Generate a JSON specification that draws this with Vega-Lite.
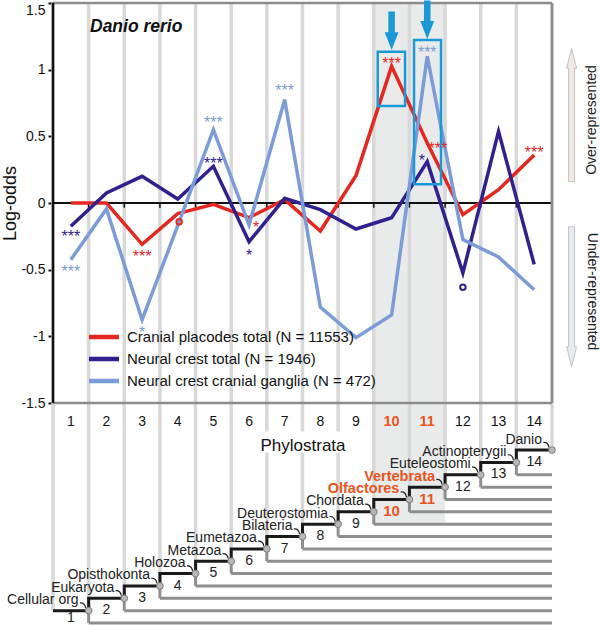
{
  "$schema": "https://vega.github.io/schema/vega-lite/v6.json",
  "width": 499,
  "height": 620,
  "autosize": {"type": "none"},
  "padding": {"left": 53, "top": 3, "right": 48, "bottom": 2},
  "background": "white",
  "config": {"font": "Liberation Sans", "view": {"stroke": null}},
  "datasets": {
    "series": [
      {"stratum": 1, "series": "Cranial placodes total (N = 11553)", "value": 0.0},
      {"stratum": 2, "series": "Cranial placodes total (N = 11553)", "value": 0.0},
      {"stratum": 3, "series": "Cranial placodes total (N = 11553)", "value": -0.31},
      {"stratum": 4, "series": "Cranial placodes total (N = 11553)", "value": -0.08},
      {"stratum": 5, "series": "Cranial placodes total (N = 11553)", "value": -0.01},
      {"stratum": 6, "series": "Cranial placodes total (N = 11553)", "value": -0.11},
      {"stratum": 7, "series": "Cranial placodes total (N = 11553)", "value": 0.025},
      {"stratum": 8, "series": "Cranial placodes total (N = 11553)", "value": -0.21},
      {"stratum": 9, "series": "Cranial placodes total (N = 11553)", "value": 0.205},
      {"stratum": 10, "series": "Cranial placodes total (N = 11553)", "value": 1.025},
      {"stratum": 11, "series": "Cranial placodes total (N = 11553)", "value": 0.45},
      {"stratum": 12, "series": "Cranial placodes total (N = 11553)", "value": -0.088},
      {"stratum": 13, "series": "Cranial placodes total (N = 11553)", "value": 0.1},
      {"stratum": 14, "series": "Cranial placodes total (N = 11553)", "value": 0.36},
      {"stratum": 1, "series": "Neural crest total (N = 1946)", "value": -0.175},
      {"stratum": 2, "series": "Neural crest total (N = 1946)", "value": 0.075},
      {"stratum": 3, "series": "Neural crest total (N = 1946)", "value": 0.2},
      {"stratum": 4, "series": "Neural crest total (N = 1946)", "value": 0.03},
      {"stratum": 5, "series": "Neural crest total (N = 1946)", "value": 0.275},
      {"stratum": 6, "series": "Neural crest total (N = 1946)", "value": -0.29},
      {"stratum": 7, "series": "Neural crest total (N = 1946)", "value": 0.035},
      {"stratum": 8, "series": "Neural crest total (N = 1946)", "value": -0.05},
      {"stratum": 9, "series": "Neural crest total (N = 1946)", "value": -0.195},
      {"stratum": 10, "series": "Neural crest total (N = 1946)", "value": -0.11},
      {"stratum": 11, "series": "Neural crest total (N = 1946)", "value": 0.31},
      {"stratum": 12, "series": "Neural crest total (N = 1946)", "value": -0.525},
      {"stratum": 13, "series": "Neural crest total (N = 1946)", "value": 0.537},
      {"stratum": 14, "series": "Neural crest total (N = 1946)", "value": -0.46},
      {"stratum": 1, "series": "Neural crest cranial ganglia (N = 472)", "value": -0.425},
      {"stratum": 2, "series": "Neural crest cranial ganglia (N = 472)", "value": -0.045},
      {"stratum": 3, "series": "Neural crest cranial ganglia (N = 472)", "value": -0.875},
      {"stratum": 4, "series": "Neural crest cranial ganglia (N = 472)", "value": -0.17},
      {"stratum": 5, "series": "Neural crest cranial ganglia (N = 472)", "value": 0.55},
      {"stratum": 6, "series": "Neural crest cranial ganglia (N = 472)", "value": -0.165},
      {"stratum": 7, "series": "Neural crest cranial ganglia (N = 472)", "value": 0.775},
      {"stratum": 8, "series": "Neural crest cranial ganglia (N = 472)", "value": -0.78},
      {"stratum": 9, "series": "Neural crest cranial ganglia (N = 472)", "value": -1.01},
      {"stratum": 10, "series": "Neural crest cranial ganglia (N = 472)", "value": -0.84},
      {"stratum": 11, "series": "Neural crest cranial ganglia (N = 472)", "value": 1.1},
      {"stratum": 12, "series": "Neural crest cranial ganglia (N = 472)", "value": -0.275},
      {"stratum": 13, "series": "Neural crest cranial ganglia (N = 472)", "value": -0.405},
      {"stratum": 14, "series": "Neural crest cranial ganglia (N = 472)", "value": -0.65}
    ],
    "sig": [
      {"x": 3, "y": -0.365, "t": "***", "series": "Cranial placodes total (N = 11553)"},
      {"x": 6.2, "y": -0.15, "t": "*", "series": "Cranial placodes total (N = 11553)"},
      {"x": 10, "y": 1.08, "t": "***", "series": "Cranial placodes total (N = 11553)"},
      {"x": 11.3, "y": 0.44, "t": "***", "series": "Cranial placodes total (N = 11553)"},
      {"x": 14, "y": 0.41, "t": "***", "series": "Cranial placodes total (N = 11553)"},
      {"x": 1, "y": -0.215, "t": "***", "series": "Neural crest total (N = 1946)"},
      {"x": 5, "y": 0.33, "t": "***", "series": "Neural crest total (N = 1946)"},
      {"x": 6, "y": -0.36, "t": "*", "series": "Neural crest total (N = 1946)"},
      {"x": 10.85, "y": 0.35, "t": "*", "series": "Neural crest total (N = 1946)"},
      {"x": 1, "y": -0.48, "t": "***", "series": "Neural crest cranial ganglia (N = 472)"},
      {"x": 3, "y": -0.94, "t": "*", "series": "Neural crest cranial ganglia (N = 472)"},
      {"x": 5, "y": 0.64, "t": "***", "series": "Neural crest cranial ganglia (N = 472)"},
      {"x": 7, "y": 0.875, "t": "***", "series": "Neural crest cranial ganglia (N = 472)"},
      {"x": 11, "y": 1.16, "t": "***", "series": "Neural crest cranial ganglia (N = 472)"}
    ],
    "circ": [
      {"x": 4.04, "y": -0.14, "series": "Cranial placodes total (N = 11553)"},
      {"x": 12, "y": -0.632, "series": "Neural crest total (N = 1946)"}
    ],
    "grid": [
      {"b": 0.5, "bot": 1}, {"b": 1.5, "bot": 1}, {"b": 2.5, "bot": 2}, {"b": 3.5, "bot": 3},
      {"b": 4.5, "bot": 4}, {"b": 5.5, "bot": 5}, {"b": 6.5, "bot": 6}, {"b": 7.5, "bot": 7},
      {"b": 8.5, "bot": 8}, {"b": 9.5, "bot": 9}, {"b": 10.5, "bot": 10}, {"b": 11.5, "bot": 11},
      {"b": 12.5, "bot": 12}, {"b": 13.5, "bot": 13}, {"b": 14.5, "bot": 14}
    ],
    "nodes": [
      {"k": 0, "x": 0.5, "lvl": 1, "below": 1, "name": ""},
      {"k": 1, "x": 1.5, "lvl": 1, "below": 0, "name": "Cellular org"},
      {"k": 2, "x": 2.5, "lvl": 2, "below": 1, "name": "Eukaryota"},
      {"k": 3, "x": 3.5, "lvl": 3, "below": 2, "name": "Opisthokonta"},
      {"k": 4, "x": 4.5, "lvl": 4, "below": 3, "name": "Holozoa"},
      {"k": 5, "x": 5.5, "lvl": 5, "below": 4, "name": "Metazoa"},
      {"k": 6, "x": 6.5, "lvl": 6, "below": 5, "name": "Eumetazoa"},
      {"k": 7, "x": 7.5, "lvl": 7, "below": 6, "name": "Bilateria"},
      {"k": 8, "x": 8.5, "lvl": 8, "below": 7, "name": "Deuterostomia"},
      {"k": 9, "x": 9.5, "lvl": 9, "below": 8, "name": "Chordata"},
      {"k": 10, "x": 10.5, "lvl": 10, "below": 9, "name": "Olfactores"},
      {"k": 11, "x": 11.5, "lvl": 11, "below": 10, "name": "Vertebrata"},
      {"k": 12, "x": 12.5, "lvl": 12, "below": 11, "name": "Euteleostomi"},
      {"k": 13, "x": 13.5, "lvl": 13, "below": 12, "name": "Actinopterygii"},
      {"k": 14, "x": 14.5, "lvl": 14, "below": 13, "name": "Danio"}
    ]
  },
  "resolve": {"scale": {"y": "independent"}},
  "layer": [
    {
      "data": {"values": [{"f": 9.5, "t": 11.5}]},
      "mark": {"type": "rect", "color": "#e9ebea"},
      "encoding": {
        "x": {"field": "f", "type": "quantitative", "scale": {"domain": [0.5, 14.5], "nice": false, "zero": false}},
        "x2": {"field": "t"},
        "y": {"datum": 8, "type": "quantitative", "scale": {"domain": [0, 50.2], "nice": false, "zero": false}, "axis": null},
        "y2": {"datum": 50.2}
      }
    },
    {
      "data": {"name": "grid"},
      "mark": {"type": "rule", "color": "#d8d8d8", "strokeWidth": 3.5},
      "encoding": {
        "x": {"field": "b", "type": "quantitative", "scale": {"domain": [0.5, 14.5], "nice": false, "zero": false},
          "axis": {"title": "Phylostrata", "offset": -220, "domain": false, "ticks": false, "labels": false, "grid": false, "zindex": 1,
            "titleFontSize": 17, "titleFontWeight": "normal", "titleColor": "#111111", "titlePadding": 34.5}},
        "y": {"field": "bot", "type": "quantitative", "scale": {"domain": [0, 50.2], "nice": false, "zero": false}, "axis": null},
        "y2": {"datum": 50.2}
      }
    },
    {
      "data": {"values": [{"f": 6.2, "t": 8.65}]},
      "mark": {"type": "rect", "color": "white"},
      "encoding": {
        "x": {"field": "f", "type": "quantitative", "scale": {"domain": [0.5, 14.5], "nice": false, "zero": false}},
        "x2": {"field": "t"},
        "y": {"datum": 13.8, "type": "quantitative", "scale": {"domain": [0, 50.2], "nice": false, "zero": false}, "axis": null},
        "y2": {"datum": 15.5}
      }
    },
    {
      "data": {"name": "nodes"},
      "transform": [{"filter": "datum.k > 0 && datum.k != 10 && datum.k != 11"}],
      "mark": {"type": "text", "fontSize": 14, "color": "#111111", "align": "center", "baseline": "middle"},
      "encoding": {
        "x": {"field": "k", "type": "quantitative", "scale": {"domain": [0.5, 14.5], "nice": false, "zero": false}},
        "y": {"datum": 16.28, "type": "quantitative", "scale": {"domain": [0, 50.2], "nice": false, "zero": false}, "axis": null},
        "text": {"field": "k", "type": "nominal"}
      }
    },
    {
      "data": {"name": "nodes"},
      "transform": [{"filter": "datum.k == 10 || datum.k == 11"}],
      "mark": {"type": "text", "fontSize": 14.5, "fontWeight": "bold", "color": "#e8541e", "align": "center", "baseline": "middle"},
      "encoding": {
        "x": {"field": "k", "type": "quantitative", "scale": {"domain": [0.5, 14.5], "nice": false, "zero": false}},
        "y": {"datum": 16.28, "type": "quantitative", "scale": {"domain": [0, 50.2], "nice": false, "zero": false}, "axis": null},
        "text": {"field": "k", "type": "nominal"}
      }
    },
    {
      "data": {"name": "grid"},
      "transform": [{"filter": "datum.b > 0.6 && datum.b < 14.4"}],
      "mark": {"type": "rule", "color": "#111111", "strokeWidth": 1.5},
      "encoding": {
        "x": {"field": "b", "type": "quantitative", "scale": {"domain": [0.5, 14.5], "nice": false, "zero": false}},
        "y": {"datum": 0, "type": "quantitative", "scale": {"domain": [-3.15, 1.5], "nice": false, "zero": false}, "axis": null},
        "y2": {"datum": -0.035}
      }
    },
    {
      "data": {"values": [{"v": 0, "c": "zero"}]},
      "mark": {"type": "rule", "color": "#111111", "strokeWidth": 2},
      "encoding": {"y": {"field": "v", "type": "quantitative", "scale": {"domain": [-3.15, 1.5], "nice": false, "zero": false}, "axis": null}}
    },
    {
      "data": {"values": [{"v": 1.5}, {"v": -1.5}]},
      "mark": {"type": "rule", "color": "#8c8c8c", "strokeWidth": 2.5},
      "encoding": {"y": {"field": "v", "type": "quantitative", "scale": {"domain": [-3.15, 1.5], "nice": false, "zero": false}, "axis": null}}
    },
    {
      "data": {"values": [{"x": 14.5, "a": -1.5, "b": 1.5}]},
      "mark": {"type": "rule", "color": "#8c8c8c", "strokeWidth": 2.5},
      "encoding": {
        "x": {"field": "x", "type": "quantitative", "scale": {"domain": [0.5, 14.5], "nice": false, "zero": false}},
        "y": {"field": "a", "type": "quantitative", "scale": {"domain": [-3.15, 1.5], "nice": false, "zero": false}, "axis": null},
        "y2": {"field": "b"}
      }
    },
    {
      "data": {"values": [{"x": 0.5, "a": -1.5, "b": 1.5}]},
      "mark": {"type": "rule", "color": "#111111", "strokeWidth": 2.5},
      "encoding": {
        "x": {"field": "x", "type": "quantitative", "scale": {"domain": [0.5, 14.5], "nice": false, "zero": false}},
        "y": {"field": "a", "type": "quantitative", "scale": {"domain": [-3.15, 1.5], "nice": false, "zero": false}, "axis": null},
        "y2": {"field": "b"}
      }
    },
    {
      "data": {"name": "series"},
      "mark": {"type": "line", "strokeWidth": 3.5},
      "encoding": {
        "x": {"field": "stratum", "type": "quantitative", "scale": {"domain": [0.5, 14.5], "nice": false, "zero": false}},
        "y": {"field": "value", "type": "quantitative", "scale": {"domain": [-3.15, 1.5], "nice": false, "zero": false},
          "axis": {"values": [-1.5, -1, -0.5, 0, 0.5, 1, 1.5], "title": "Log-odds", "domain": false, "grid": false,
            "labelExpr": "datum.value == 0 ? '0' : (datum.value < 0 ? '-' : '') + format(abs(datum.value), '~g')",
            "labelFlush": true, "labelFlushOffset": 0,
            "labelFontSize": 14, "labelColor": "#111111", "labelPadding": 3, "tickColor": "#111111", "tickWidth": 2, "tickSize": 5,
            "titleFontSize": 18, "titleFontWeight": "normal", "titleColor": "#111111", "titleX": -43, "titleY": 200, "titleAngle": 270, "titleAlign": "center", "titleBaseline": "middle"}},
        "color": {"field": "series", "type": "nominal",
          "scale": {"domain": ["Cranial placodes total (N = 11553)", "Neural crest total (N = 1946)", "Neural crest cranial ganglia (N = 472)"], "range": ["#e5281f", "#30218f", "#7b9cd9"]},
          "legend": {"orient": "none", "legendX": 38, "legendY": 321, "title": null, "symbolType": "M -1.4 0 L 1.4 0", "symbolSize": 460, "symbolStrokeWidth": 4.5,
            "labelFontSize": 15, "labelLimit": 400, "labelColor": "#111111", "rowPadding": 0, "labelOffset": 10, "padding": 0}}
      }
    },
    {
      "data": {"name": "sig"},
      "mark": {"type": "text", "fontSize": 16, "baseline": "middle", "align": "center", "dy": 5},
      "encoding": {
        "x": {"field": "x", "type": "quantitative", "scale": {"domain": [0.5, 14.5], "nice": false, "zero": false}},
        "y": {"field": "y", "type": "quantitative", "scale": {"domain": [-3.15, 1.5], "nice": false, "zero": false}, "axis": null},
        "text": {"field": "t", "type": "nominal"},
        "color": {"field": "series", "type": "nominal"}
      }
    },
    {
      "data": {"name": "circ"},
      "mark": {"type": "point", "filled": false, "strokeWidth": 2, "size": 30, "opacity": 1},
      "encoding": {
        "x": {"field": "x", "type": "quantitative", "scale": {"domain": [0.5, 14.5], "nice": false, "zero": false}},
        "y": {"field": "y", "type": "quantitative", "scale": {"domain": [-3.15, 1.5], "nice": false, "zero": false}, "axis": null},
        "color": {"field": "series", "type": "nominal"}
      }
    },
    {
      "data": {"values": [
        {"x1": 9.611, "x2": 10.377, "y1": 0.7275, "y2": 1.135},
        {"x1": 10.629, "x2": 11.386, "y1": 0.14, "y2": 1.2225}
      ]},
      "mark": {"type": "rect", "filled": false, "stroke": "#1b99d6", "strokeWidth": 2.5},
      "encoding": {
        "x": {"field": "x1", "type": "quantitative", "scale": {"domain": [0.5, 14.5], "nice": false, "zero": false}},
        "x2": {"field": "x2"},
        "y": {"field": "y1", "type": "quantitative", "scale": {"domain": [-3.15, 1.5], "nice": false, "zero": false}, "axis": null},
        "y2": {"field": "y2"}
      }
    },
    {
      "data": {"values": [{"x": 10, "y": 1.291}, {"x": 11, "y": 1.375}]},
      "mark": {"type": "point", "filled": true, "color": "#1b99d6", "opacity": 1, "size": 1482,
        "shape": "M -0.17 -1 L 0.17 -1 L 0.17 0.07 L 0.36 0.07 L 0 1 L -0.36 0.07 L -0.17 0.07 Z"},
      "encoding": {
        "x": {"field": "x", "type": "quantitative", "scale": {"domain": [0.5, 14.5], "nice": false, "zero": false}},
        "y": {"field": "y", "type": "quantitative", "scale": {"domain": [-3.15, 1.5], "nice": false, "zero": false}, "axis": null}
      }
    },
    {
      "data": {"values": [{"x": 15.05, "y": 0.66}]},
      "mark": {"type": "point", "filled": true, "fill": "#f3e7e3", "stroke": "#b5b5b5", "strokeWidth": 0.8, "opacity": 1, "size": 17796,
        "shape": "M 0 -1 L 0.075 -0.7 L 0.045 -0.7 L 0.045 1 L -0.045 1 L -0.045 -0.7 L -0.075 -0.7 Z"},
      "encoding": {
        "x": {"field": "x", "type": "quantitative", "scale": {"domain": [0.5, 14.5], "nice": false, "zero": false}},
        "y": {"field": "y", "type": "quantitative", "scale": {"domain": [-3.15, 1.5], "nice": false, "zero": false}, "axis": null}
      }
    },
    {
      "data": {"values": [{"x": 15.05, "y": -0.703}]},
      "mark": {"type": "point", "filled": true, "fill": "#e6ebf2", "stroke": "#b5b5b5", "strokeWidth": 0.8, "opacity": 1, "size": 19600,
        "shape": "M 0 1 L 0.071 0.714 L 0.043 0.714 L 0.043 -1 L -0.043 -1 L -0.043 0.714 L -0.071 0.714 Z"},
      "encoding": {
        "x": {"field": "x", "type": "quantitative", "scale": {"domain": [0.5, 14.5], "nice": false, "zero": false}},
        "y": {"field": "y", "type": "quantitative", "scale": {"domain": [-3.15, 1.5], "nice": false, "zero": false}, "axis": null}
      }
    },
    {
      "data": {"values": [{"x": 15.615, "y": 0.6225, "t": "Over-represented"}]},
      "mark": {"type": "text", "angle": 270, "fontSize": 14, "color": "#222222", "align": "center", "baseline": "middle"},
      "encoding": {
        "x": {"field": "x", "type": "quantitative", "scale": {"domain": [0.5, 14.5], "nice": false, "zero": false}},
        "y": {"field": "y", "type": "quantitative", "scale": {"domain": [-3.15, 1.5], "nice": false, "zero": false}, "axis": null},
        "text": {"field": "t", "type": "nominal"}
      }
    },
    {
      "data": {"values": [{"x": 15.615, "y": -0.664, "t": "Under-represented"}]},
      "mark": {"type": "text", "angle": 90, "fontSize": 14, "color": "#222222", "align": "center", "baseline": "middle"},
      "encoding": {
        "x": {"field": "x", "type": "quantitative", "scale": {"domain": [0.5, 14.5], "nice": false, "zero": false}},
        "y": {"field": "y", "type": "quantitative", "scale": {"domain": [-3.15, 1.5], "nice": false, "zero": false}, "axis": null},
        "text": {"field": "t", "type": "nominal"}
      }
    },
    {
      "data": {"values": [{"x": 1.538, "y": 1.322, "t": "Danio rerio"}]},
      "mark": {"type": "text", "fontSize": 17.5, "fontWeight": "bold", "fontStyle": "italic", "color": "#111111", "align": "left", "baseline": "middle"},
      "encoding": {
        "x": {"field": "x", "type": "quantitative", "scale": {"domain": [0.5, 14.5], "nice": false, "zero": false}},
        "y": {"field": "y", "type": "quantitative", "scale": {"domain": [-3.15, 1.5], "nice": false, "zero": false}, "axis": null},
        "text": {"field": "t", "type": "nominal"}
      }
    },
    {
      "data": {"name": "nodes"},
      "transform": [{"filter": "datum.k > 0 && datum.k < 14"}],
      "mark": {"type": "rule", "color": "#8e8e8e", "strokeWidth": 3},
      "encoding": {
        "x": {"field": "x", "type": "quantitative", "scale": {"domain": [0.5, 14.5], "nice": false, "zero": false}},
        "y": {"field": "lvl", "type": "quantitative", "scale": {"domain": [0, 50.2], "nice": false, "zero": false}, "axis": null},
        "y2": {"field": "below"}
      }
    },
    {
      "data": {"name": "nodes"},
      "transform": [{"filter": "datum.k > 0 && datum.k < 14"}],
      "mark": {"type": "rule", "color": "#8e8e8e", "strokeWidth": 3},
      "encoding": {
        "x": {"field": "x", "type": "quantitative", "scale": {"domain": [0.5, 14.5], "nice": false, "zero": false}},
        "x2": {"datum": 14.5},
        "y": {"field": "below", "type": "quantitative", "scale": {"domain": [0, 50.2], "nice": false, "zero": false}, "axis": null}
      }
    },
    {
      "data": {"name": "nodes"},
      "mark": {"type": "line", "color": "#1a1a1a", "strokeWidth": 3, "interpolate": "step-before"},
      "encoding": {
        "x": {"field": "x", "type": "quantitative", "scale": {"domain": [0.5, 14.5], "nice": false, "zero": false}},
        "y": {"field": "lvl", "type": "quantitative", "scale": {"domain": [0, 50.2], "nice": false, "zero": false}, "axis": null}
      }
    },
    {
      "data": {"name": "nodes"},
      "transform": [{"filter": "datum.k > 0"}],
      "mark": {"type": "point", "filled": false, "stroke": "#222222", "strokeWidth": 1.2, "opacity": 1, "size": 400,
        "shape": "M -0.87 -0.77 Q -0.35 -0.8 -0.3 -0.25"},
      "encoding": {
        "x": {"field": "x", "type": "quantitative", "scale": {"domain": [0.5, 14.5], "nice": false, "zero": false}},
        "y": {"field": "lvl", "type": "quantitative", "scale": {"domain": [0, 50.2], "nice": false, "zero": false}, "axis": null}
      }
    },
    {
      "data": {"name": "nodes"},
      "transform": [{"filter": "datum.k > 0"}],
      "mark": {"type": "point", "filled": true, "fill": "#b8b8b8", "stroke": "#808080", "strokeWidth": 1, "opacity": 1, "size": 45, "shape": "circle"},
      "encoding": {
        "x": {"field": "x", "type": "quantitative", "scale": {"domain": [0.5, 14.5], "nice": false, "zero": false}},
        "y": {"field": "lvl", "type": "quantitative", "scale": {"domain": [0, 50.2], "nice": false, "zero": false}, "axis": null}
      }
    },
    {
      "data": {"name": "nodes"},
      "transform": [{"filter": "datum.k > 0 && datum.k != 10 && datum.k != 11"}],
      "mark": {"type": "text", "fontSize": 14, "color": "#222222", "align": "right", "baseline": "middle", "dx": -10, "dy": -10.5},
      "encoding": {
        "x": {"field": "x", "type": "quantitative", "scale": {"domain": [0.5, 14.5], "nice": false, "zero": false}},
        "y": {"field": "lvl", "type": "quantitative", "scale": {"domain": [0, 50.2], "nice": false, "zero": false}, "axis": null},
        "text": {"field": "name", "type": "nominal"}
      }
    },
    {
      "data": {"name": "nodes"},
      "transform": [{"filter": "datum.k == 10 || datum.k == 11"}],
      "mark": {"type": "text", "fontSize": 14.5, "fontWeight": "bold", "color": "#e8541e", "align": "right", "baseline": "middle", "dx": -10, "dy": -10.5},
      "encoding": {
        "x": {"field": "x", "type": "quantitative", "scale": {"domain": [0.5, 14.5], "nice": false, "zero": false}},
        "y": {"field": "lvl", "type": "quantitative", "scale": {"domain": [0, 50.2], "nice": false, "zero": false}, "axis": null},
        "text": {"field": "name", "type": "nominal"}
      }
    },
    {
      "data": {"name": "nodes"},
      "transform": [{"filter": "datum.k > 1 && datum.k != 10 && datum.k != 11"}],
      "mark": {"type": "text", "fontSize": 14, "color": "#222222", "align": "center", "baseline": "middle", "dy": 12},
      "encoding": {
        "x": {"field": "k", "type": "quantitative", "scale": {"domain": [0.5, 14.5], "nice": false, "zero": false}},
        "y": {"field": "lvl", "type": "quantitative", "scale": {"domain": [0, 50.2], "nice": false, "zero": false}, "axis": null},
        "text": {"field": "k", "type": "nominal"}
      }
    },
    {
      "data": {"name": "nodes"},
      "transform": [{"filter": "datum.k == 1"}],
      "mark": {"type": "text", "fontSize": 14, "color": "#222222", "align": "center", "baseline": "middle", "dy": 7.5},
      "encoding": {
        "x": {"field": "k", "type": "quantitative", "scale": {"domain": [0.5, 14.5], "nice": false, "zero": false}},
        "y": {"field": "lvl", "type": "quantitative", "scale": {"domain": [0, 50.2], "nice": false, "zero": false}, "axis": null},
        "text": {"field": "k", "type": "nominal"}
      }
    },
    {
      "data": {"name": "nodes"},
      "transform": [{"filter": "datum.k == 10 || datum.k == 11"}],
      "mark": {"type": "text", "fontSize": 15, "fontWeight": "bold", "color": "#e8541e", "align": "center", "baseline": "middle", "dy": 12},
      "encoding": {
        "x": {"field": "k", "type": "quantitative", "scale": {"domain": [0.5, 14.5], "nice": false, "zero": false}},
        "y": {"field": "lvl", "type": "quantitative", "scale": {"domain": [0, 50.2], "nice": false, "zero": false}, "axis": null},
        "text": {"field": "k", "type": "nominal"}
      }
    }
  ]
}
